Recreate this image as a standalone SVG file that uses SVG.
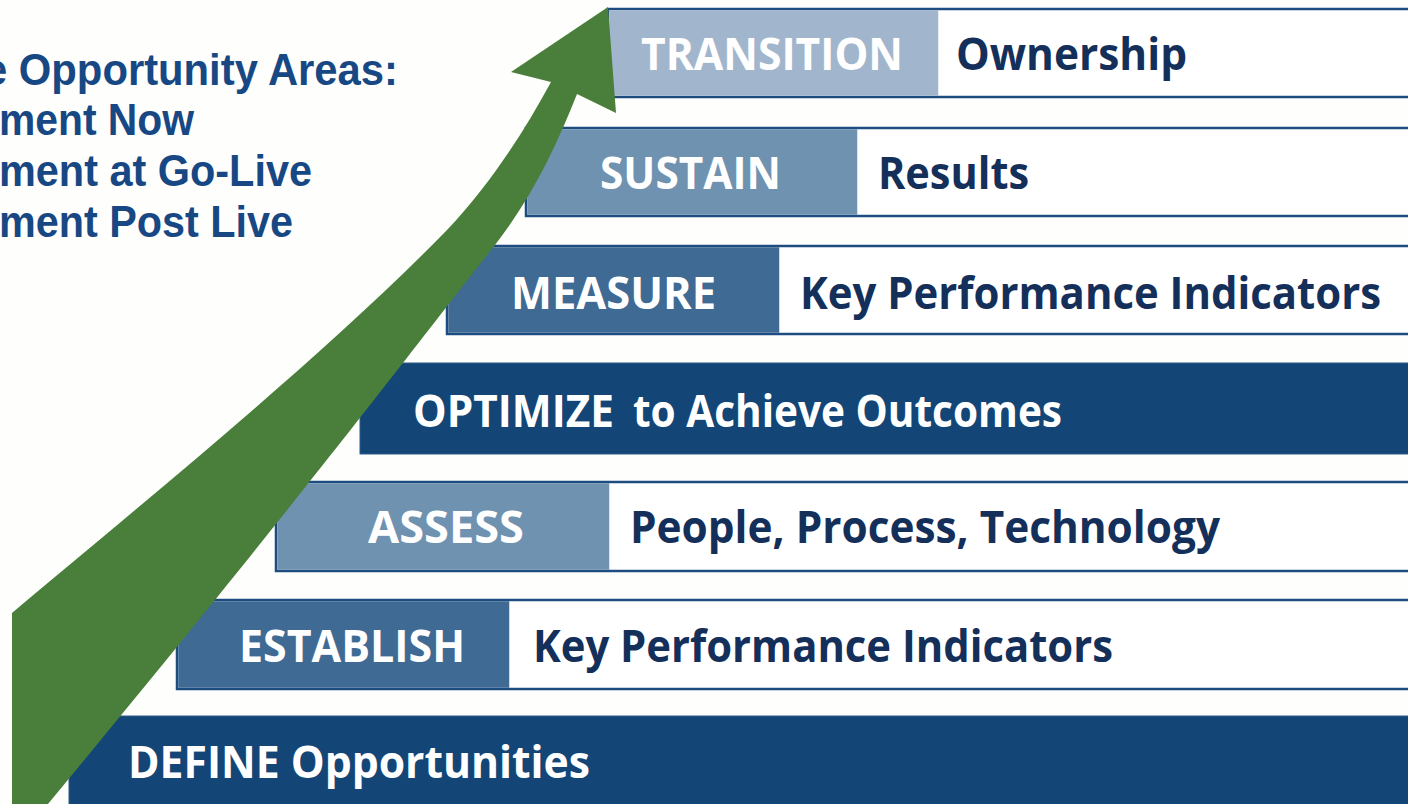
<svg xmlns="http://www.w3.org/2000/svg" width="1408" height="804" viewBox="0 0 1408 804">
  <style>
    .bar { fill: #ffffff; stroke: #1d4d80; stroke-width: 2.5; }
    .solid { fill: #134677; stroke: #2e5a88; stroke-width: 1; }
    .tag { stroke: none; }
    .light { fill: #a1b6cd; }
    .mid { fill: #6f92b1; }
    .deep { fill: #3f6a94; }
    .tagtext { font-family: "Open Sans", "Noto Sans", "DejaVu Sans", sans-serif; font-weight: 700; font-size: 44px; fill: #ffffff; }
    .desc { font-family: "Open Sans", "Noto Sans", "DejaVu Sans", sans-serif; font-weight: 700; font-size: 44px; fill: #14305a; }
    .side { font-family: "Liberation Sans", Arial, sans-serif; font-weight: 700; font-size: 45px; fill: #174884; }
    .arrow { fill: #4a7e3b; }
  </style>

  <rect x="0" y="0" width="1408" height="804" fill="#fefefc"/>

  <!-- side list -->
  <g id="opportunity-list">
    <text class="side" x="-16" y="85" textLength="414" lengthAdjust="spacingAndGlyphs">e Opportunity Areas:</text>
    <text class="side" x="-1" y="135" textLength="195" lengthAdjust="spacingAndGlyphs">ment Now</text>
    <text class="side" x="-1" y="186" textLength="313" lengthAdjust="spacingAndGlyphs">ment at Go-Live</text>
    <text class="side" x="-1" y="237" textLength="294" lengthAdjust="spacingAndGlyphs">ment Post Live</text>
  </g>

  <!-- staircase of steps, top to bottom -->
  <g id="step-transition">
    <rect class="bar" x="608" y="9" width="820" height="88"/>
    <rect class="tag light" x="609.25" y="10.25" width="329" height="85.5"/>
    <text class="tagtext" x="641" y="70" textLength="262" lengthAdjust="spacingAndGlyphs">TRANSITION</text>
    <text class="desc" x="956" y="70" textLength="231" lengthAdjust="spacingAndGlyphs">Ownership</text>
  </g>

  <g id="step-sustain">
    <rect class="bar" x="526" y="128" width="900" height="88"/>
    <rect class="tag mid" x="527.25" y="129.25" width="330" height="85.5"/>
    <text class="tagtext" x="600" y="189" textLength="181" lengthAdjust="spacingAndGlyphs">SUSTAIN</text>
    <text class="desc" x="878" y="189" textLength="151" lengthAdjust="spacingAndGlyphs">Results</text>
  </g>

  <g id="step-measure">
    <rect class="bar" x="447" y="246" width="980" height="88"/>
    <rect class="tag deep" x="448.25" y="247.25" width="331" height="85.5"/>
    <text class="tagtext" x="511" y="309" textLength="205" lengthAdjust="spacingAndGlyphs">MEASURE</text>
    <text class="desc" x="800" y="309" textLength="581" lengthAdjust="spacingAndGlyphs">Key Performance Indicators</text>
  </g>

  <g id="step-optimize">
    <rect class="solid" x="360" y="363" width="1060" height="91"/>
    <text class="tagtext" y="427"><tspan x="413" textLength="201" lengthAdjust="spacingAndGlyphs">OPTIMIZE</tspan> <tspan x="633" textLength="429" lengthAdjust="spacingAndGlyphs">to Achieve Outcomes</tspan></text>
  </g>

  <g id="step-assess">
    <rect class="bar" x="276" y="482" width="1150" height="89"/>
    <rect class="tag mid" x="277.25" y="483.25" width="332" height="86.5"/>
    <text class="tagtext" x="368" y="543" textLength="156" lengthAdjust="spacingAndGlyphs">ASSESS</text>
    <text class="desc" x="630" y="543" textLength="590" lengthAdjust="spacingAndGlyphs">People, Process, Technology</text>
  </g>

  <g id="step-establish">
    <rect class="bar" x="177" y="600" width="1250" height="89"/>
    <rect class="tag deep" x="178.25" y="601.25" width="331" height="86.5"/>
    <text class="tagtext" x="239" y="662" textLength="226" lengthAdjust="spacingAndGlyphs">ESTABLISH</text>
    <text class="desc" x="533" y="662" textLength="580" lengthAdjust="spacingAndGlyphs">Key Performance Indicators</text>
  </g>

  <g id="step-define">
    <rect class="solid" x="69" y="716" width="1360" height="100"/>
    <text class="tagtext" x="128" y="778" textLength="462" lengthAdjust="spacingAndGlyphs">DEFINE Opportunities</text>
  </g>

  <!-- rising arrow drawn over the steps -->
  <g id="connectors">
    <path class="arrow" d="M 12 810 L 12 613 C 140 505, 320 360, 447 230 C 490 185, 525 130, 551 82 L 511 72 L 608 7 L 616 113 L 577 94 C 555 150, 530 200, 495 245 C 420 340, 300 500, 43 810 Z"/>
  </g>
</svg>
